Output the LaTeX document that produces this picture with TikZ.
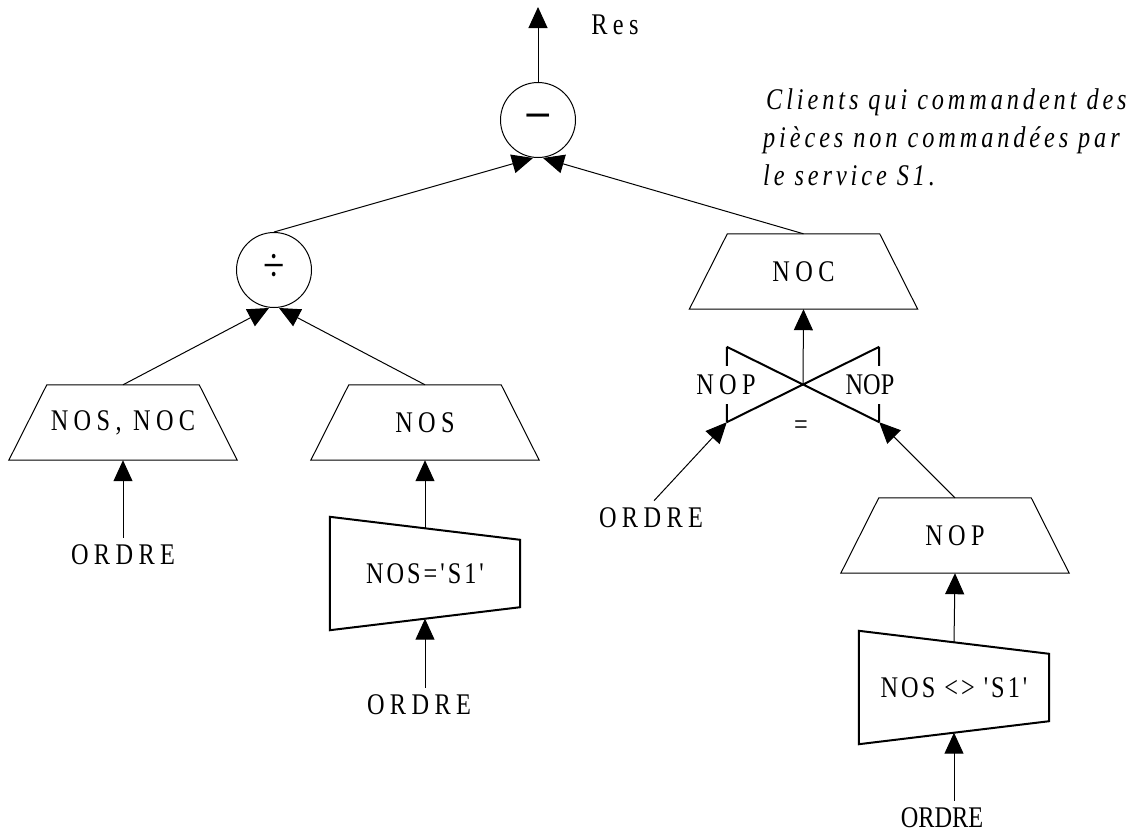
\documentclass[tikz,border=0pt]{standalone}
\usepackage{fontspec}
\setmainfont{Liberation Serif}[FakeStretch=0.81]
\newfontfamily\lsWide{Liberation Serif}[FakeStretch=0.81,LetterSpace=18]
\newfontfamily\lsMed{Liberation Serif}[FakeStretch=0.81,LetterSpace=10]
\newfontfamily\lsNote{Liberation Serif}[FakeStretch=0.81,LetterSpace=13]
\usetikzlibrary{arrows.meta,calc}

\begin{document}
\begin{tikzpicture}[x=1pt,y=-1pt,
  every node/.style={font=\fontsize{30}{36}\selectfont, inner sep=0pt},
  conn/.style={line width=1pt, -{Triangle[length=21pt,width=19pt]}},
  link/.style={line width=1pt},
  heavy/.style={line width=2pt},
  op/.style={circle, draw, line width=1pt, minimum size=75pt, text height=0pt, text depth=0pt},
  projbox/.style={minimum width=152pt, minimum height=75pt},
  selbox/.style={minimum width=190pt, minimum height=113pt},
  src/.style={inner ysep=7pt},
  gap/.style={fill=white, inner xsep=1pt, inner ysep=9pt}
]
\useasboundingbox (0,0) rectangle (1132,838);

% operators
\node[op] (minus) at (538,120) {\raisebox{-15pt}{\fontsize{60}{60}\selectfont −}};
\node[op] (div) at (274,270) {\raisebox{-11pt}{\fontsize{48}{48}\selectfont ÷}};
\node (res) at (615,25) {\lsWide Res};
\coordinate (out) at (538,7);

% projections
\node[projbox] (pnosnoc) at (123,422.5) {\lsWide NOS, NOC};
\node[projbox] (pnos) at (425,422.5) {\lsWide NOS};
\node[projbox] (pnoc) at (803.5,271.5) {\lsWide NOC};
\node[projbox] (pnop) at (955,535.5) {\lsWide NOP};
\foreach \n in {pnosnoc,pnos,pnoc,pnop}
  \draw[link] (\n.north west) -- (\n.north east) -- ([xshift=38pt]\n.south east)
              -- ([xshift=-38pt]\n.south west) -- cycle;

% selections
\node[selbox] (s1) at (425,573.5) {\lsMed NOS='S1'};
\node[selbox] (s2) at (954,687.5) {\lsMed NOS <> 'S1'};
\foreach \n in {s1,s2}
  \draw[heavy] (\n.north west) -- ([yshift=-23pt]\n.north east)
               -- ([yshift=23pt]\n.south east) -- (\n.south west) -- cycle;

% join
\node[minimum width=152pt, minimum height=75pt] (join) at (803,384.5) {};
\draw[heavy] (join.north west) -- (join.south east)
             (join.north east) -- (join.south west)
             (join.north west) -- (join.south west)
             (join.north east) -- (join.south east);
\node[gap] (jl) at (726,385) {\lsWide NOP};
\node[gap] (jr) at (870,385) {NOP};
\node (jeq) at (801,428) {=};

% relations
\node[src] (o1) at (123,555) {\lsWide ORDRE};
\node[src] (o2) at (419,705) {\lsWide ORDRE};
\node[src] (o3) at (942,818) {ORDRE};
\node[src] (o4) at (651,518) {\lsWide ORDRE};

% comment
\node[anchor=base west] (n1) at (766,109) {\lsNote\itshape Clients qui commandent des};
\node[anchor=base west] (n2) at (763,147) {\lsNote\itshape pièces non commandées par};
\node[anchor=base west] (n3) at (763,185) {\lsNote\itshape le service S1.};

% connectors
\draw[conn] (minus) -- (out);
\draw[conn] (div.north) -- ([xshift=-5pt]minus.south);
\draw[conn] (pnoc.north) -- ([xshift=5pt]minus.south);
\draw[conn] (pnosnoc.north) -- ([xshift=-5pt]div.south);
\draw[conn] (pnos.north) -- ([xshift=5pt]div.south);
\draw[conn] (join.center) -- (pnoc.south);
\draw[conn] (pnop.north) -- (join.south east);
\draw[conn] ([xshift=3pt]o4.north) -- (join.south west);
\draw[conn] (o1.north -| pnosnoc.south) -- (pnosnoc.south);
\draw[conn] ([yshift=-11.5pt]s1.north) -- (pnos.south);
\draw[conn] (o2.north -| s1.south) -- ([yshift=11.5pt]s1.south);
\draw[conn] ([yshift=-11.5pt]s2.north) -- (pnop.south);
\draw[conn] (o3.north -| s2.south) -- ([yshift=11.5pt]s2.south);
\end{tikzpicture}
\end{document}
